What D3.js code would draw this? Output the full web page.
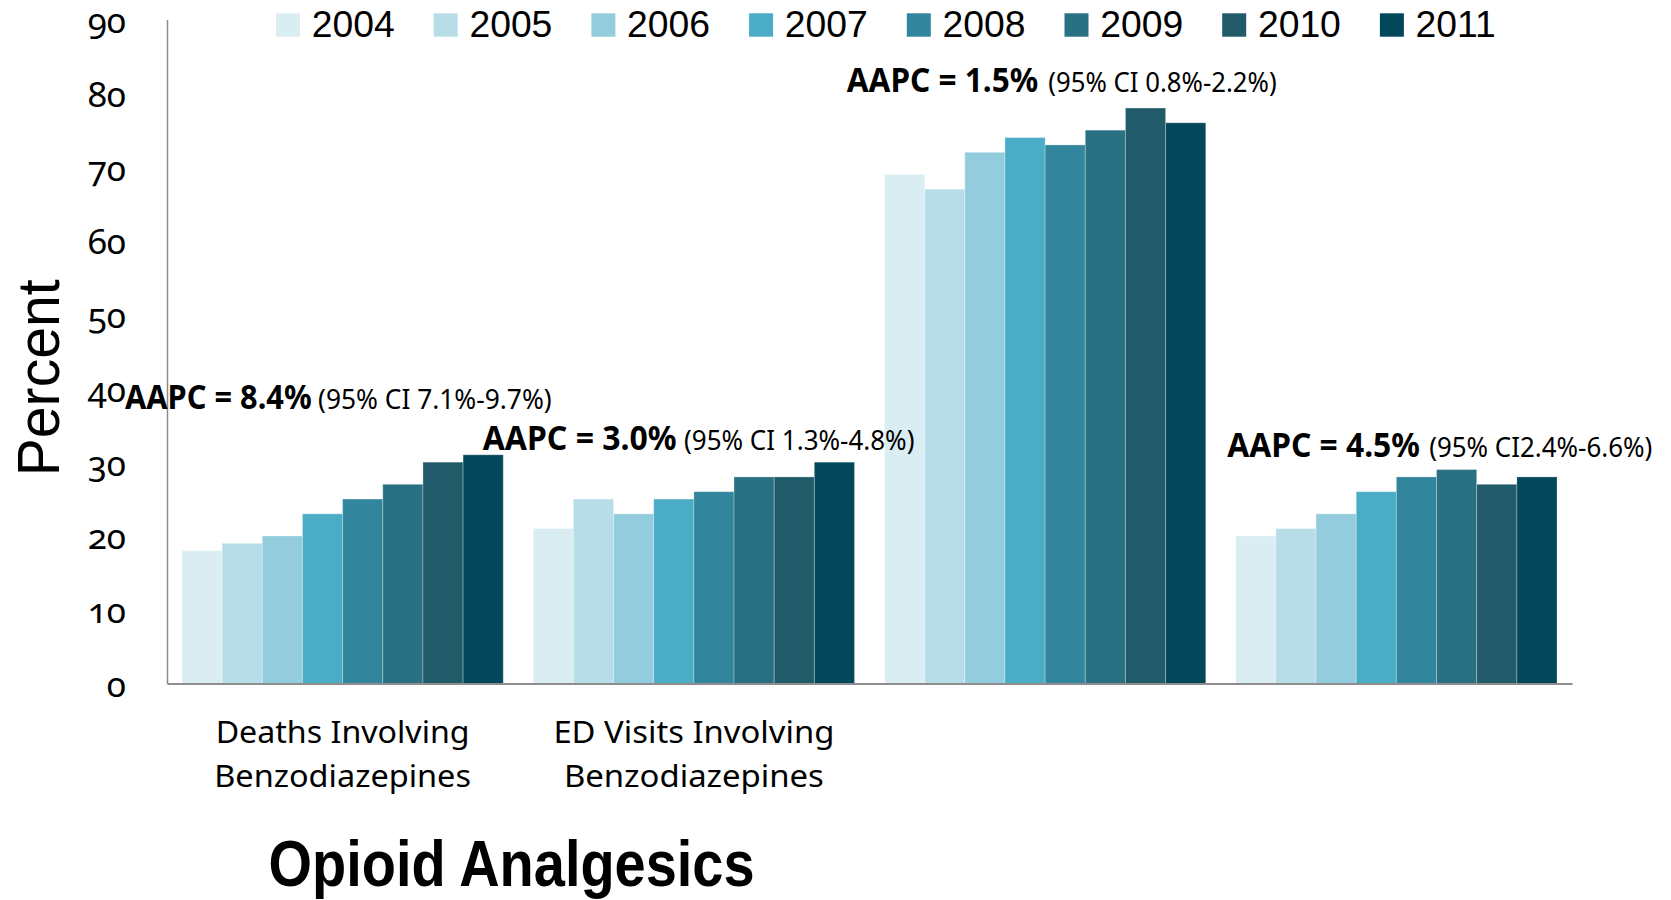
<!DOCTYPE html>
<html>
<head>
<meta charset="utf-8">
<script src="https://cdn.jsdelivr.net/npm/d3@7"></script>
<style>
  html, body { margin: 0; padding: 0; background: #ffffff; }
  svg { display: block; }
  text { font-family: "Noto Sans", "Open Sans", sans-serif; fill: #000000; }
  .tick-label { font-variant-numeric: oldstyle-nums; font-feature-settings: "onum" 1; }
</style>
</head>
<body>
<svg id="chart" width="1671" height="900"></svg>
<script>
// ---- data ----
const groups = ["deaths", "edVisits", "groupC", "groupD"];
const groupLabels = [
  ["Deaths Involving", "Benzodiazepines"],
  ["ED Visits Involving", "Benzodiazepines"],
  [],
  []
];
const years = ["2004", "2005", "2006", "2007", "2008", "2009", "2010", "2011"];

// percent per group, one array per year
const v2004 = [18, 21, 69, 20];
const v2005 = [19, 25, 67, 21];
const v2006 = [20, 23, 72, 23];
const v2007 = [23, 25, 74, 26];
const v2008 = [25, 26, 73, 28];
const v2009 = [27, 28, 75, 29];
const v2010 = [30, 28, 78, 27];
const v2011 = [31, 30, 76, 28];
const seriesValues = [v2004, v2005, v2006, v2007, v2008, v2009, v2010, v2011];

const yTicks = [0, 10, 20, 30, 40, 50, 60, 70, 80, 90];

const aapcText = ["AAPC = 8.4%", "AAPC = 3.0%", "AAPC = 1.5%", "AAPC = 4.5%"];
const ciText = ["(95% CI 7.1%-9.7%)", "(95% CI 1.3%-4.8%)", "(95% CI 0.8%-2.2%)", "(95% CI2.4%-6.6%)"];
const aapcLevel = [37.2, 31.6, 80.2, 30.7];   // value (percent) at the annotation baseline

const yTitle = "Percent";
const bottomTitle = "Opioid Analgesics";

// ---- style / layout ----
const colors = ["#DAEDF3", "#B7DEE8", "#93CDDD", "#4BACC6", "#31859C", "#2A7083", "#215A69", "#03475A"];
const plot = { left: 167, right: 1572, top: 19.5, bottom: 683.5 };
const annotLayout = {
  boldDx: [-57, -50.5, -37.8, -8.5],
  boldW:  [186.7, 193.9, 191.6, 192.7],
  ciDx:   [136, 150.8, 163.8, 193.5],
  ciW:    [233.7, 230.4, 228.4, 223]
};
const catLineW = [[254, 256.7], [281, 260]];

const svg = d3.select("#chart");

const x0 = d3.scaleBand()
  .domain(groups)
  .range([plot.left, plot.right])
  .paddingInner(0.0854)
  .paddingOuter(0.0427);

const x1 = d3.scaleBand()
  .domain(years)
  .range([0, x0.bandwidth()])
  .padding(0);

const y = d3.scaleLinear()
  .domain([0, 90])
  .range([plot.bottom, plot.top]);

// ---- bars ----
const barRows = [];
groups.forEach((g, gi) => {
  years.forEach((yr, yi) => {
    barRows.push({ group: g, year: yr, yi: yi, value: seriesValues[yi][gi] });
  });
});

svg.append("g")
  .selectAll("rect")
  .data(barRows)
  .join("rect")
  .attr("x", d => x0(d.group) + x1(d.year))
  .attr("y", d => y(d.value))
  .attr("width", x1.bandwidth())
  .attr("height", d => y(0) - y(d.value))
  .attr("fill", d => colors[d.yi])
  .attr("stroke", "rgba(255,255,255,0.28)")
  .attr("stroke-width", 1);

// ---- y axis ----
const yAxis = svg.append("g")
  .attr("transform", `translate(${plot.left},0)`)
  .call(d3.axisLeft(y).tickValues(yTicks).tickSize(0).tickSizeOuter(0).tickPadding(41));
yAxis.select(".domain").attr("stroke", "#8c8c8c").attr("stroke-width", 1.5);
yAxis.selectAll("text")
  .attr("class", "tick-label")
  .attr("fill", "#000")
  .attr("dy", "0.37em")
  .style("font-size", "35px")
  .style("font-family", "'Noto Sans', 'Open Sans', sans-serif");

// ---- x axis ----
const xAxis = svg.append("g")
  .attr("transform", `translate(0,${plot.bottom})`)
  .call(d3.axisBottom(x0).tickSize(0).tickSizeOuter(0).tickFormat(""));
xAxis.select(".domain").attr("stroke", "#8e8e8e").attr("stroke-width", 2);

// category labels (two lines)
const catG = svg.append("g");
groups.forEach((g, gi) => {
  const lines = groupLabels[gi];
  const cx = x0(g) + x0.bandwidth() / 2;
  lines.forEach((ln, li) => {
    catG.append("text")
      .attr("x", cx)
      .attr("y", 743.3 + li * 44)
      .attr("text-anchor", "middle")
      .attr("textLength", catLineW[gi][li])
      .attr("lengthAdjust", "spacingAndGlyphs")
      .style("font-size", "31.5px")
      .text(ln);
  });
});

// ---- annotations ----
const annG = svg.append("g");
groups.forEach((g, gi) => {
  const by = y(aapcLevel[gi]);
  annG.append("text")
    .attr("x", x0(g) + annotLayout.boldDx[gi])
    .attr("y", by)
    .attr("textLength", annotLayout.boldW[gi])
    .attr("lengthAdjust", "spacingAndGlyphs")
    .style("font-size", "34px")
    .style("font-weight", "700")
    .text(aapcText[gi]);
  annG.append("text")
    .attr("x", x0(g) + annotLayout.ciDx[gi])
    .attr("y", by)
    .attr("textLength", annotLayout.ciW[gi])
    .attr("lengthAdjust", "spacingAndGlyphs")
    .style("font-size", "27px")
    .text(ciText[gi]);
});

// ---- legend ----
const legend = svg.append("g");
years.forEach((yr, i) => {
  const lx = 276 + i * 157.7;
  legend.append("rect")
    .attr("x", lx).attr("y", 13.3)
    .attr("width", 24).attr("height", 23.4)
    .attr("fill", colors[i]);
  legend.append("text")
    .attr("x", lx + 35.7).attr("y", 36.7)
    .style("font-size", "37.3px")
    .style("font-family", "'Liberation Sans', sans-serif")
    .text(yr);
});

// ---- titles ----
svg.append("text")
  .attr("transform", "translate(58.6,377.8) rotate(-90)")
  .attr("text-anchor", "middle")
  .attr("textLength", 197)
  .attr("lengthAdjust", "spacingAndGlyphs")
  .style("font-size", "59px")
  .style("font-family", "'Liberation Sans', sans-serif")
  .text(yTitle);

svg.append("text")
  .attr("x", 268.6).attr("y", 886.3)
  .attr("textLength", 486)
  .attr("lengthAdjust", "spacingAndGlyphs")
  .style("font-size", "64px")
  .style("font-weight", "700")
  .style("font-family", "'Liberation Sans', sans-serif")
  .text(bottomTitle);
</script>
</body>
</html>
